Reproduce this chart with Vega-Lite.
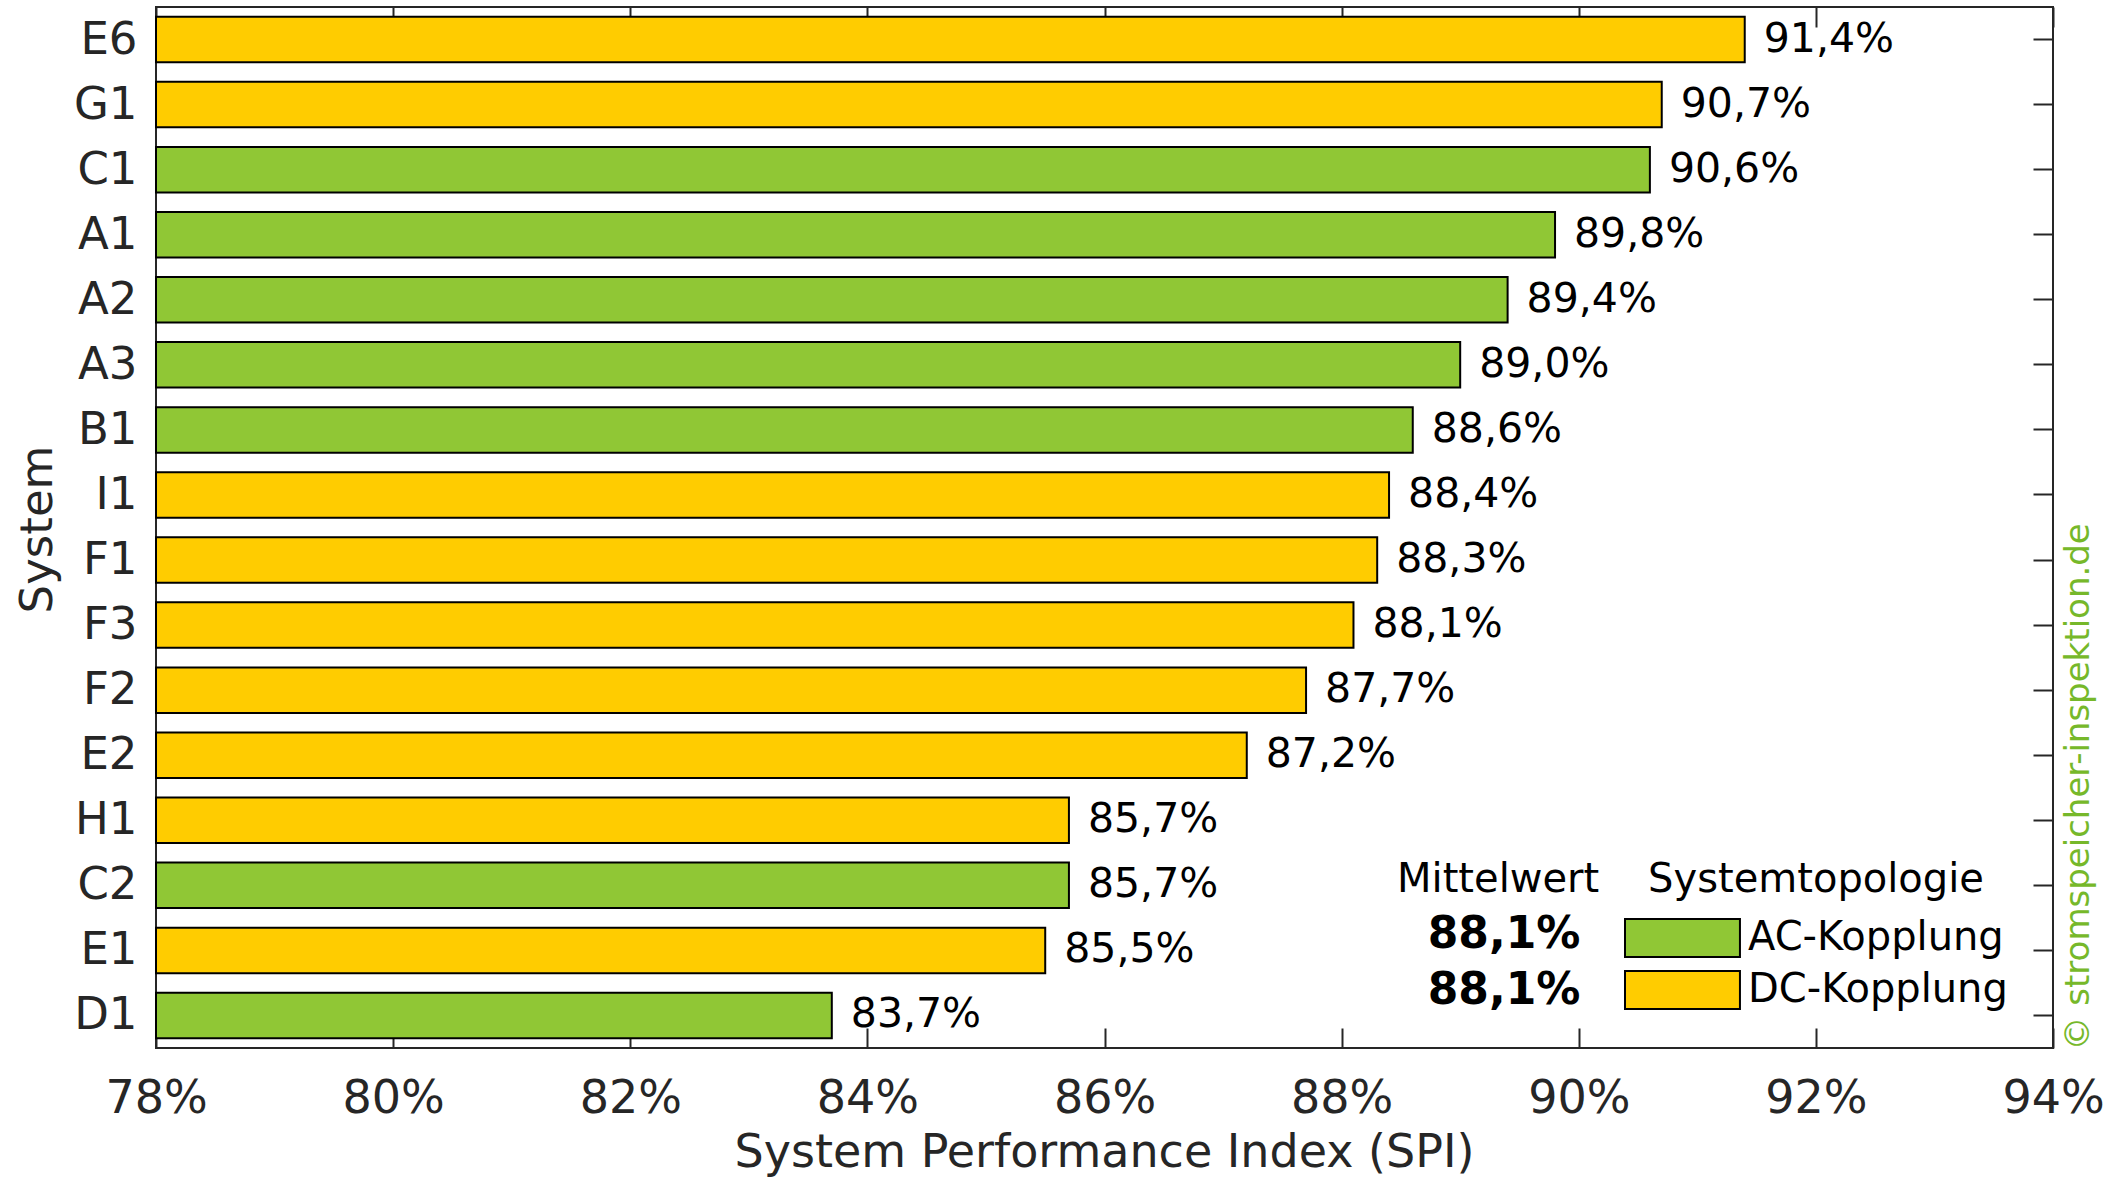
{
  "$schema": "https://vega.github.io/schema/vega-lite/v6.json",
  "width": 1897,
  "height": 1041,
  "autosize": "none",
  "padding": {"left": 156, "top": 7, "right": 65, "bottom": 132},
  "background": "white",
  "config": {
    "font": "DejaVu Sans",
    "locale": {"number": {"decimal": ",", "thousands": ".", "grouping": [3], "currency": ["", " €"]}},
    "view": {"stroke": "#262626", "strokeWidth": 2},
    "axis": {
      "domain": false,
      "grid": false,
      "tickColor": "#262626",
      "tickWidth": 2,
      "labelColor": "#262626",
      "titleColor": "#262626",
      "labelFont": "DejaVu Sans",
      "titleFont": "DejaVu Sans",
      "titleFontWeight": "normal"
    },
    "text": {"font": "DejaVu Sans"}
  },
  "data": {
    "values": [
      {"system": "E6", "spi": 0.914, "topology": "DC-Kopplung"},
      {"system": "G1", "spi": 0.907, "topology": "DC-Kopplung"},
      {"system": "C1", "spi": 0.906, "topology": "AC-Kopplung"},
      {"system": "A1", "spi": 0.898, "topology": "AC-Kopplung"},
      {"system": "A2", "spi": 0.894, "topology": "AC-Kopplung"},
      {"system": "A3", "spi": 0.890, "topology": "AC-Kopplung"},
      {"system": "B1", "spi": 0.886, "topology": "AC-Kopplung"},
      {"system": "I1", "spi": 0.884, "topology": "DC-Kopplung"},
      {"system": "F1", "spi": 0.883, "topology": "DC-Kopplung"},
      {"system": "F3", "spi": 0.881, "topology": "DC-Kopplung"},
      {"system": "F2", "spi": 0.877, "topology": "DC-Kopplung"},
      {"system": "E2", "spi": 0.872, "topology": "DC-Kopplung"},
      {"system": "H1", "spi": 0.857, "topology": "DC-Kopplung"},
      {"system": "C2", "spi": 0.857, "topology": "AC-Kopplung"},
      {"system": "E1", "spi": 0.855, "topology": "DC-Kopplung"},
      {"system": "D1", "spi": 0.837, "topology": "AC-Kopplung"}
    ]
  },
  "layer": [
    {
      "mark": {"type": "bar", "stroke": "#000000", "strokeWidth": 2},
      "encoding": {
        "y": {
          "field": "system",
          "type": "nominal",
          "scale": {
            "domain": ["E6", "G1", "C1", "A1", "A2", "A3", "B1", "I1", "F1", "F3", "F2", "E2", "H1", "C2", "E1", "D1"],
            "paddingInner": 0.3,
            "paddingOuter": 0.15
          },
          "axis": {
            "orient": "left",
            "title": "System",
            "titleFontSize": 45,
            "labelFontSize": 45,
            "tickSize": -20,
            "labelPadding": 39,
            "titleAngle": 270,
            "titleX": -119,
            "titleY": 522,
            "titleAlign": "center",
            "titleBaseline": "middle"
          }
        },
        "x": {
          "field": "spi",
          "type": "quantitative",
          "scale": {"domain": [0.78, 0.94], "nice": false, "zero": false},
          "axis": {
            "orient": "bottom",
            "values": [0.78, 0.80, 0.82, 0.84, 0.86, 0.88, 0.90, 0.92, 0.94],
            "format": ".0%",
            "labelFontSize": 46,
            "tickSize": -20,
            "labelPadding": 84,
            "labelBaseline": "alphabetic",
            "labelFlush": false,
            "labelOverlap": false,
            "title": "System Performance Index (SPI)",
            "titleFontSize": 46,
            "titleX": 948,
            "titleY": 118,
            "titleBaseline": "alphabetic"
          }
        },
        "x2": {"datum": 0.78},
        "color": {
          "field": "topology",
          "type": "nominal",
          "scale": {"domain": ["AC-Kopplung", "DC-Kopplung"], "range": ["#90c735", "#ffcc00"]},
          "legend": {
            "orient": "none",
            "legendX": 1468,
            "legendY": 853,
            "padding": 0,
            "title": "Systemtopologie",
            "titleFont": "DejaVu Sans",
            "titleFontSize": 40,
            "titleFontWeight": "normal",
            "titleColor": "#000000",
            "titleAnchor": "middle",
            "titleLimit": 0,
            "titlePadding": 18,
            "labelFont": "DejaVu Sans",
            "labelFontSize": 40,
            "labelColor": "#000000",
            "labelLimit": 0,
            "labelOffset": 84,
            "rowPadding": 6,
            "symbolType": "M-1,-1H5.05V1H-1Z",
            "symbolSize": 1444,
            "symbolStrokeColor": "#000000",
            "symbolStrokeWidth": 2,
            "symbolOpacity": 1
          }
        }
      }
    },
    {
      "mark": {"type": "text", "align": "left", "baseline": "middle", "dx": 19, "fontSize": 41, "color": "#000000"},
      "encoding": {
        "y": {
          "field": "system",
          "type": "nominal",
          "axis": {
            "orient": "right",
            "labels": false,
            "tickSize": -20,
            "title": "© stromspeicher-inspektion.de",
            "titleColor": "#76b82a",
            "titleFontSize": 34,
            "titleAngle": 270,
            "titleAlign": "left",
            "titleBaseline": "middle",
            "titleX": 25,
            "titleY": 1043
          }
        },
        "x": {
          "field": "spi",
          "type": "quantitative",
          "axis": {
            "orient": "top",
            "labels": false,
            "tickSize": -20,
            "title": null,
            "values": [0.78, 0.80, 0.82, 0.84, 0.86, 0.88, 0.90, 0.92, 0.94]
          }
        },
        "text": {"field": "spi", "type": "quantitative", "format": ".1%"}
      }
    },
    {
      "transform": [{"aggregate": [{"op": "count", "as": "n"}]}],
      "mark": {"type": "text", "text": "Mittelwert", "align": "center", "baseline": "alphabetic", "dy": 7, "fontSize": 40, "fontWeight": "normal", "color": "#000000"},
      "encoding": {
        "x": {"datum": 0.8932, "type": "quantitative", "axis": null},
        "y": {"datum": "C2", "type": "nominal", "axis": null}
      }
    },
    {
      "transform": [
        {"filter": "datum.topology === 'AC-Kopplung'"},
        {"aggregate": [{"op": "mean", "field": "spi", "as": "mean_spi"}]}
      ],
      "mark": {"type": "text", "align": "center", "baseline": "alphabetic", "dy": -2, "fontSize": 44, "fontWeight": "bold", "color": "#000000"},
      "encoding": {
        "x": {"datum": 0.8937, "type": "quantitative", "axis": null},
        "y": {"datum": "E1", "type": "nominal", "axis": null},
        "text": {"field": "mean_spi", "type": "quantitative", "format": ".1%"}
      }
    },
    {
      "transform": [
        {"filter": "datum.topology === 'DC-Kopplung'"},
        {"aggregate": [{"op": "mean", "field": "spi", "as": "mean_spi"}]}
      ],
      "mark": {"type": "text", "align": "center", "baseline": "alphabetic", "dy": -11, "fontSize": 44, "fontWeight": "bold", "color": "#000000"},
      "encoding": {
        "x": {"datum": 0.8937, "type": "quantitative", "axis": null},
        "y": {"datum": "D1", "type": "nominal", "axis": null},
        "text": {"field": "mean_spi", "type": "quantitative", "format": ".1%"}
      }
    }
  ],
  "resolve": {"axis": {"x": "independent", "y": "independent"}}
}
